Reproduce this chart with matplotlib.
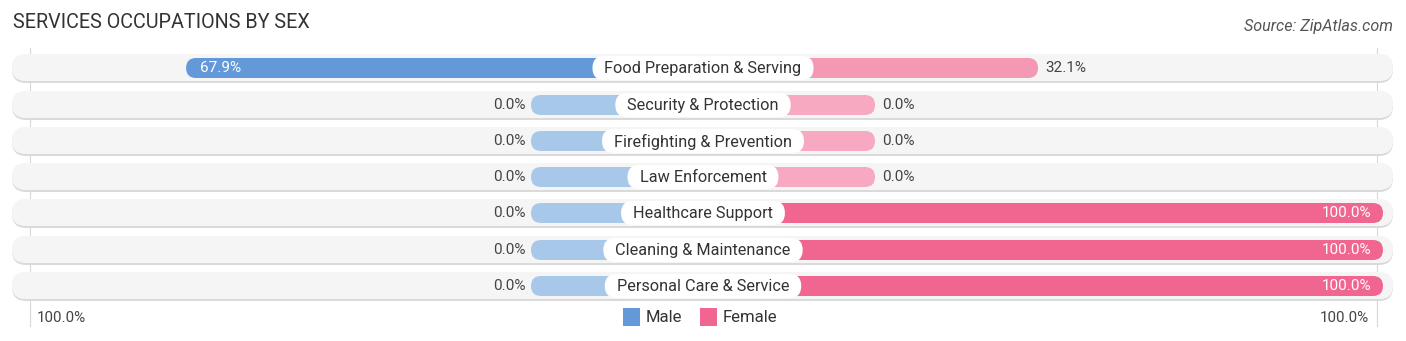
import matplotlib
matplotlib.use("Agg")
import matplotlib.pyplot as plt
from matplotlib.patches import FancyBboxPatch, Rectangle

plt.rcParams['font.family'] = ['Roboto', 'DejaVu Sans']

categories = ["Food Preparation & Serving", "Security & Protection", "Firefighting & Prevention",
              "Law Enforcement", "Healthcare Support", "Cleaning & Maintenance", "Personal Care & Service"]
male = [67.9, 0.0, 0.0, 0.0, 0.0, 0.0, 0.0]
female = [32.1, 0.0, 0.0, 0.0, 100.0, 100.0, 100.0]

W, H = 1406, 341
fig = plt.figure(figsize=(W / 100, H / 100), dpi=100)
ax = fig.add_axes([0, 0, 1, 1])
ax.set_xlim(0, W)
ax.set_ylim(H, 0)
ax.axis('off')
renderer = fig.canvas.get_renderer()

cx = 703          # center of the chart
stub = 172        # minimum bar length
scale = 5.08      # px per percent
row_y = [68, 105, 141, 177, 213, 250, 286]
bar_h = 20
row_h = 28

male_dark, male_light = "#6399d9", "#a8c8ea"
fem_dark, fem_mid, fem_light = "#f06690", "#f598b4", "#f7a9c2"

# thin guide lines
for gx in [30, 1377]:
    ax.plot([gx, gx], [48, 326], color="#d8d8d8", lw=0.8, zorder=0)

def pill(x, y, w, h, color, z, ec="none"):
    r = h / 2
    p = FancyBboxPatch((x, y), w, h, boxstyle=f"round,pad=0,rounding_size={r}",
                       fc=color, ec=ec, lw=0.8, zorder=z)
    ax.add_patch(p)

for i, cat in enumerate(categories):
    y = row_y[i]
    # row background with soft shadow
    pill(12, y - row_h / 2 + 1, 1381, row_h, "#dadada", 1)
    pill(12, y - row_h / 2, 1381, row_h - 1, "#f5f5f5", 2)

    m = male[i]
    f = female[i]
    mlen = stub + m * scale
    flen = stub + f * scale
    mc = male_dark if m > 5 else male_light
    if f > 50:
        fc = fem_dark
    elif f > 5:
        fc = fem_mid
    else:
        fc = fem_light
    pill(cx - mlen, y - bar_h / 2, mlen, bar_h, mc, 3)
    pill(cx, y - bar_h / 2, flen, bar_h, fc, 3)

    t = ax.text(cx, y + 0.5, cat, ha='center', va='center', fontsize=11.7, color="#333333", zorder=6)
    tw = t.get_window_extent(renderer).width
    bw = tw + 24
    pill(cx - bw / 2, y - 12, bw, 24, "white", 5)

    if m > 20:
        ax.text(cx - mlen + 14, y, f"{m:.1f}%", ha='left', va='center', fontsize=11,
                color="white", zorder=5)
    else:
        ax.text(cx - mlen - 5, y, f"{m:.1f}%", ha='right', va='center', fontsize=11,
                color="#444444", zorder=5)
    if f > 80:
        ax.text(cx + flen - 12, y, f"{f:.1f}%", ha='right', va='center', fontsize=11,
                color="white", zorder=5)
    else:
        ax.text(cx + flen + 7, y, f"{f:.1f}%", ha='left', va='center', fontsize=11,
                color="#444444", zorder=5)

ax.text(13, 22, "SERVICES OCCUPATIONS BY SEX", ha='left', va='center', fontsize=14.2, color="#333333")
ax.text(1393, 26, "Source: ZipAtlas.com", ha='right', va='center', fontsize=11.6,
        color="#555555", style='italic')

ax.text(37, 318, "100.0%", ha='left', va='center', fontsize=10.9, color="#444444")
ax.text(1369, 318, "100.0%", ha='right', va='center', fontsize=10.9, color="#444444")

ax.add_patch(Rectangle((623, 308), 17, 18, fc=male_dark, ec="none"))
ax.text(646, 317, "Male", ha='left', va='center', fontsize=12, color="#333333")
ax.add_patch(Rectangle((700, 308), 17, 18, fc=fem_dark, ec="none"))
ax.text(723, 317, "Female", ha='left', va='center', fontsize=12, color="#333333")

fig.savefig("out.png", dpi=100)
